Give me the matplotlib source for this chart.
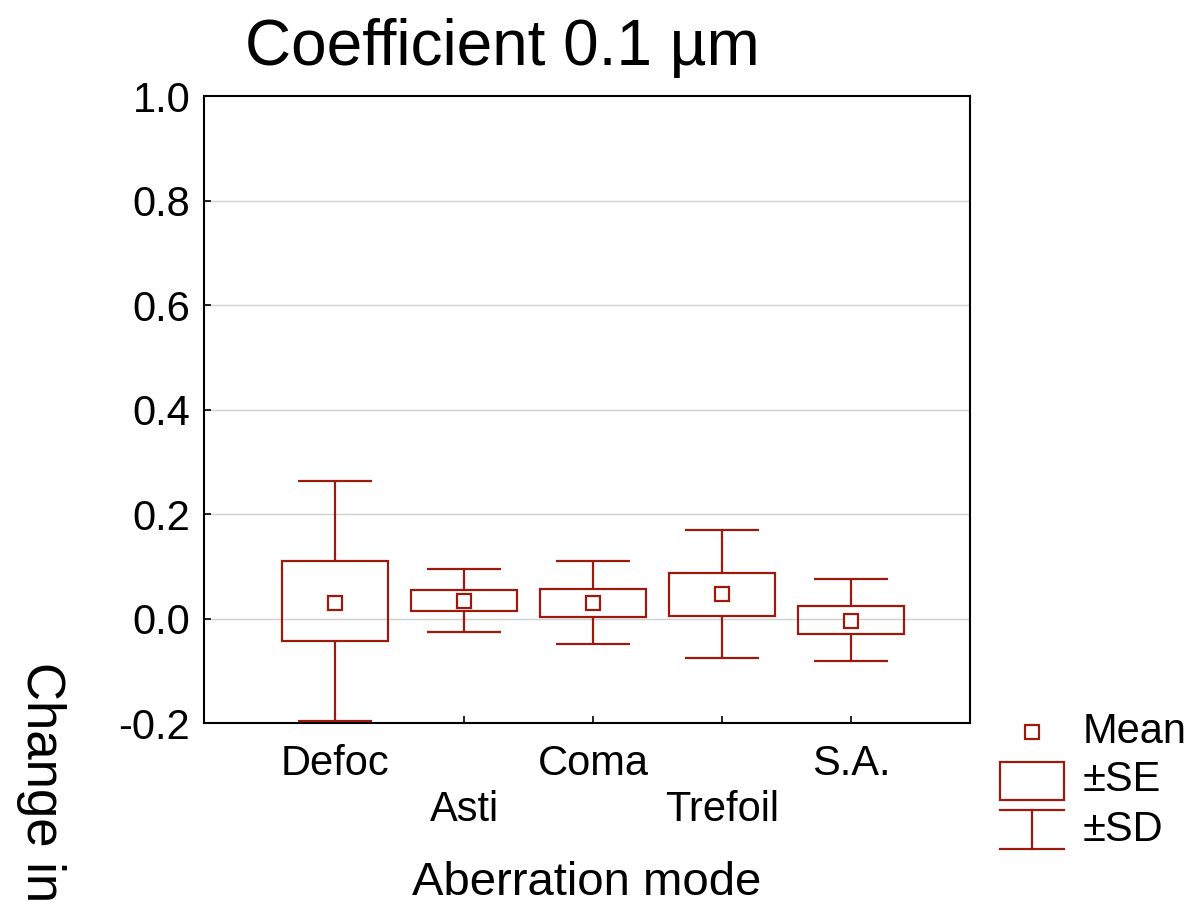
import numpy as np
import matplotlib.pyplot as plt
from matplotlib.patches import Rectangle
from matplotlib.lines import Line2D

plt.rcParams['font.family'] = ['Liberation Sans', 'DejaVu Sans']

# 数据：各像差模式的均值、±SE 和 ±SD
modes = ['Defoc', 'Asti', 'Coma', 'Trefoil', 'S.A.']
mean = [0.030, 0.034, 0.030, 0.046, -0.004]
se_lo = [-0.044, 0.015, 0.003, 0.005, -0.029]
se_hi = [0.110, 0.055, 0.056, 0.087, 0.023]
sd_lo = [-0.196, -0.026, -0.049, -0.076, -0.081]
sd_hi = [0.263, 0.095, 0.111, 0.169, 0.075]

red = '#9a1a0e'
box_w = 0.82
cap_w = 0.57

fig = plt.figure(figsize=(11.94, 9.05), dpi=100)
ax = fig.add_axes([0.1709, 0.2011, 0.6415, 0.6928])

x = np.arange(len(modes))
lo = np.array(se_lo)
hi = np.array(se_hi)
ax.bar(x, hi - lo, bottom=lo, width=box_w, fill=False, edgecolor=red, linewidth=1.6, zorder=3)
ax.vlines(x, hi, sd_hi, color=red, linewidth=1.6, zorder=3)
ax.vlines(x, sd_lo, lo, color=red, linewidth=1.6, zorder=3)
ax.hlines(sd_hi, x - cap_w / 2, x + cap_w / 2, color=red, linewidth=1.6, zorder=3)
ax.hlines(sd_lo, x - cap_w / 2, x + cap_w / 2, color=red, linewidth=1.6, zorder=3)
ax.plot(x, mean, 's', markersize=10.5, markerfacecolor='white', markeredgecolor=red,
        markeredgewidth=1.6, linestyle='none', zorder=4)

ax.set_xlim(-1.016, 4.922)
ax.set_ylim(-0.2, 1.0)
ax.set_yticks(np.arange(-0.2, 1.01, 0.2))
ax.set_yticklabels(['-0.2', '0.0', '0.2', '0.4', '0.6', '0.8', '1.0'])
ax.set_xticks(x)
ax.set_xticklabels([m if i % 2 == 0 else '\n' + m for i, m in enumerate(modes)],
                   linespacing=1.2)
ax.tick_params(axis='both', direction='in', length=5, width=1.2, labelsize=30)
ax.tick_params(axis='x', pad=15)
ax.tick_params(axis='y', pad=10)
for g in [0.0, 0.2, 0.4, 0.6, 0.8]:
    ax.axhline(g, color='#d0d0d0', linewidth=1, zorder=1)
for s in ax.spines.values():
    s.set_linewidth(1.5)

ax.set_xlabel('Aberration mode', fontsize=34, labelpad=22)
ax.set_title('Coefficient 0.1 µm', fontsize=46, pad=22, x=0.39)
fig.text(0.034, 0.268, 'Change in', rotation=-90, fontsize=38, va='top', ha='center')

# 图例（手动绘制）
tr = ax.transAxes
ax.add_line(Line2D([1.081], [-0.0144], marker='s', markersize=10.5, markerfacecolor='white',
                   markeredgecolor=red, markeredgewidth=1.6, transform=tr, clip_on=False))
ax.add_patch(Rectangle((1.039, -0.1228), 0.0838, 0.0606, fill=False, edgecolor=red,
                       linewidth=1.6, transform=tr, clip_on=False))
ax.add_line(Line2D([1.039, 1.1227], [-0.1388, -0.1388], color=red, lw=1.6, transform=tr, clip_on=False))
ax.add_line(Line2D([1.039, 1.1227], [-0.201, -0.201], color=red, lw=1.6, transform=tr, clip_on=False))
ax.add_line(Line2D([1.081, 1.081], [-0.1388, -0.201], color=red, lw=1.6, transform=tr, clip_on=False))
for yy, t in [(-0.0144, 'Mean'), (-0.0909, '±SE'), (-0.1707, '±SD')]:
    ax.text(1.1475, yy, t, transform=tr, fontsize=30, va='center', ha='left')

fig.savefig('out.png', dpi=100)
